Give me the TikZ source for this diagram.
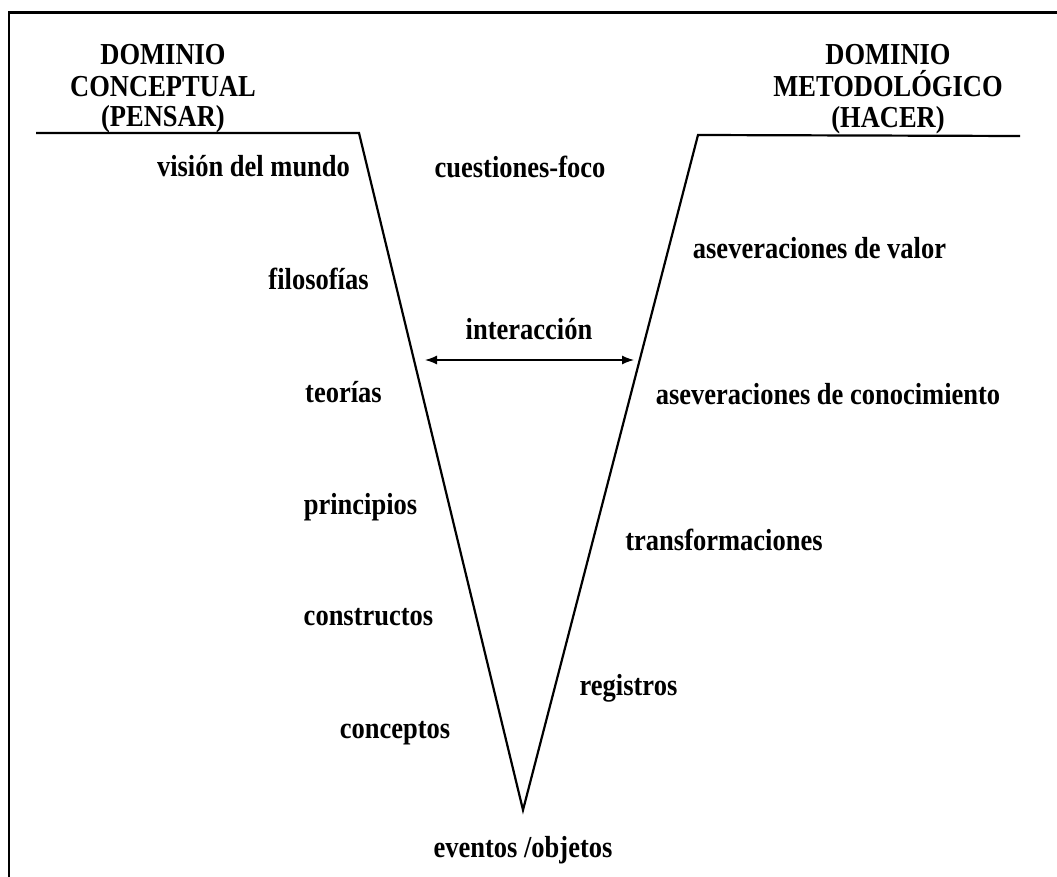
\documentclass[tikz,border=0pt]{standalone}
\usepackage{fontspec}
\setmainfont{Liberation Serif}
\usepackage{graphicx}
\usetikzlibrary{arrows.meta}
\newcommand\vstretch[1]{\scalebox{1}[1.15]{#1}}
\begin{document}
\begin{tikzpicture}[x=1pt,y=-1pt,
  lbl/.style={inner sep=0pt, anchor=base, font=\fontsize{26.5}{30}\selectfont\bfseries},
  frameline/.style={line width=2.7pt, line cap=rect},
  vline/.style={line width=2.2pt, line join=miter},
  twoway/.style={line width=1.3pt, {Latex[length=12pt,width=9pt]}-{Latex[length=12pt,width=9pt]}}]
\useasboundingbox (0,0) rectangle (1057,877);
% frame (only top and left edges visible)
\coordinate (fbl) at (9,880);
\coordinate (ftl) at (9,12.5);
\coordinate (ftr) at (1060,12.5);
\draw[frameline] (fbl) -- (ftl) -- (ftr);
% V shape
\coordinate (lstart) at (36,133);
\coordinate (lcorner) at (359,133);
\coordinate (tip) at (523,810);
\coordinate (rcorner) at (698,135);
\coordinate (rend) at (1020,136);
\draw[vline] (lstart) -- (lcorner) -- (tip) -- (rcorner) -- (rend);
% headings
\node[lbl] (hl1) at (163,65) {\vstretch{DOMINIO}};
\node[lbl] (hl2) at (163,97) {\vstretch{CONCEPTUAL}};
\node[lbl] (hl3) at (163,127) {\vstretch{(PENSAR)}};
\node[lbl] (hr1) at (888,65) {\vstretch{DOMINIO}};
\node[lbl] (hr2) at (888,97) {\vstretch{METODOLÓGICO}};
\node[lbl] (hr3) at (888,128) {\vstretch{(HACER)}};
% labels
\node[lbl] (vision) at (253.5,177) {\vstretch{visión del mundo}};
\node[lbl] (cuest) at (520,178) {\vstretch{cuestiones-foco}};
\node[lbl] (filo) at (318.5,290) {\vstretch{filosofías}};
\node[lbl] (asval) at (819.5,259) {\vstretch{aseveraciones de valor}};
\node[lbl] (inter) at (529,339) {\vstretch{interacción}};
\node[lbl] (teor) at (343.5,402) {\vstretch{teorías}};
\node[lbl] (ascon) at (828,404) {\vstretch{aseveraciones de conocimiento}};
\node[lbl] (princ) at (360.5,514) {\vstretch{principios}};
\node[lbl] (transf) at (724,550) {\vstretch{transformaciones}};
\node[lbl] (constr) at (368.5,625) {\vstretch{constructos}};
\node[lbl] (regis) at (628.5,695) {\vstretch{registros}};
\node[lbl] (conc) at (395,738) {\vstretch{conceptos}};
\node[lbl] (event) at (523,857) {\vstretch{eventos /objetos}};
% interaction arrow
\coordinate (al) at (425,360);
\coordinate (ar) at (634,360);
\draw[twoway] (al) -- (ar);
\end{tikzpicture}
\end{document}
